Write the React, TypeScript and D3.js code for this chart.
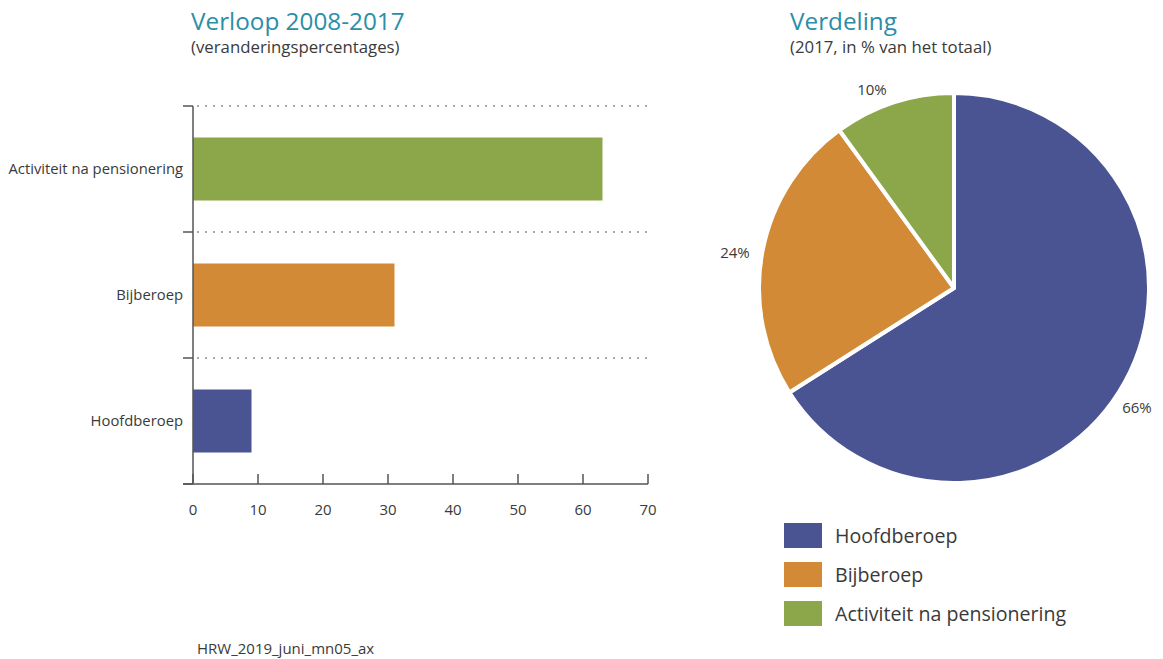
import React from "react";
import * as d3 from "d3";

const categories = ["Activiteit na pensionering", "Bijberoep", "Hoofdberoep"];
const changeValues = [63, 31, 9];
const xTicks = [0, 10, 20, 30, 40, 50, 60, 70];

const pieCategories = ["Hoofdberoep", "Bijberoep", "Activiteit na pensionering"];
const pieValues = [66, 24, 10];
const pieLabels = ["66%", "24%", "10%"];

const colorMap: Record<string, string> = {
  Hoofdberoep: "#4a5493",
  Bijberoep: "#d38a37",
  "Activiteit na pensionering": "#8ba74a",
};

const FONT = "'Open Sans', 'Noto Sans', sans-serif";
const TITLE = "#2a8ea8";
const TEXT = "#3a3a3a";

export default function App() {
  const W = 1163;
  const H = 659;

  // bar chart
  const x = d3.scaleLinear().domain([0, 70]).range([193, 648]);
  const y = d3.scaleBand<string>().domain(categories).range([106, 484]).paddingInner(0.5).paddingOuter(0.25);
  const bandEdges = [106, 106 + y.step(), 106 + 2 * y.step(), 484];

  // pie
  const cx = 954;
  const cy = 288;
  const R = 195;
  const pie = d3.pie<number>().sort(null).value((d) => d);
  const arcs = pie(pieValues);
  const arc = d3.arc<d3.PieArcDatum<number>>().innerRadius(0).outerRadius(R);
  const labelPos = [
    [1137, 413],
    [735, 258],
    [872, 95],
  ];

  return (
    <svg width={W} height={H} style={{ position: "absolute", left: 0, top: 0, background: "#fff" }} fontFamily={FONT}>
      {/* titles */}
      <text x={191} y={30} fontSize={24.3} fill={TITLE}>Verloop 2008-2017</text>
      <text x={191} y={53} fontSize={16.8} fill={TEXT}>(veranderingspercentages)</text>
      <text x={790} y={30} fontSize={24.3} fill={TITLE}>Verdeling</text>
      <text x={790} y={53} fontSize={16.8} fill={TEXT}>(2017, in % van het totaal)</text>

      {/* dotted separators */}
      {bandEdges.slice(0, 3).map((e, i) => (
        <line key={i} x1={197} x2={648} y1={e} y2={e} stroke="#555" strokeWidth={1.2} strokeDasharray="2,6" />
      ))}

      {/* bars */}
      {categories.map((c, i) => (
        <rect key={c} x={x(0)} y={y(c)!} width={x(changeValues[i]) - x(0)} height={y.bandwidth()} fill={colorMap[c]} />
      ))}

      {/* y axis */}
      <line x1={193} x2={193} y1={106} y2={484} stroke="#555" strokeWidth={1.5} />
      {bandEdges.map((e, i) => (
        <line key={i} x1={183} x2={193} y1={e} y2={e} stroke="#555" strokeWidth={1.5} />
      ))}
      {categories.map((c) => (
        <text key={c} x={183} y={y(c)! + y.bandwidth() / 2 + 5} fontSize={14.8} textAnchor="end" fill={TEXT}>{c}</text>
      ))}

      {/* x axis */}
      <line x1={183} x2={648} y1={484} y2={484} stroke="#555" strokeWidth={1.5} />
      {xTicks.map((t) => (
        <g key={t}>
          <line x1={x(t)} x2={x(t)} y1={474} y2={484} stroke="#555" strokeWidth={1.5} />
          <text x={x(t)} y={515} fontSize={15} textAnchor="middle" fill={TEXT}>{t}</text>
        </g>
      ))}

      {/* pie */}
      <g transform={`translate(${cx},${cy})`}>
        {arcs.map((a, i) => (
          <path key={i} d={arc(a)!} fill={colorMap[pieCategories[i]]} stroke="#fff" strokeWidth={4} strokeLinejoin="round" />
        ))}
      </g>
      {pieLabels.map((l, i) => (
        <text key={i} x={labelPos[i][0]} y={labelPos[i][1]} fontSize={15} textAnchor="middle" fill={TEXT}>{l}</text>
      ))}

      {/* legend */}
      {pieCategories.map((c, i) => (
        <g key={c} transform={`translate(784,${523 + i * 39})`}>
          <rect width={38} height={25} fill={colorMap[c]} />
          <text x={51} y={20} fontSize={19.6} fill={TEXT}>{c}</text>
        </g>
      ))}

      <text x={197} y={654} fontSize={15} fill={TEXT}>HRW_2019_juni_mn05_ax</text>
    </svg>
  );
}
